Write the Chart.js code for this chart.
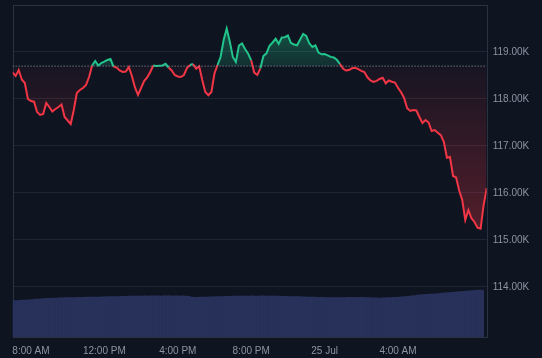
<!DOCTYPE html>
<html><head><meta charset="utf-8">
<script src="https://cdn.jsdelivr.net/npm/chart.js@4/dist/chart.umd.min.js"></script>
<style>html,body{margin:0;padding:0;background:#0f1421;overflow:hidden}#wrap{width:542px;height:358px;position:relative}</style>
</head><body><div id="wrap"><canvas id="c" width="542" height="358"></canvas></div>
<script>
// Start: 24 Jul 07:00, one point every 10 minutes
const stepMinutes = 10;
const endMinutes = 1550;
const baseline = 118700;
const prices = [
 118564,118489,118617,118415,118340,118000,117957,117943,117723,117660,
 117681,117915,117830,117734,117787,117830,117883,117617,117543,117468,
 117766,118128,118191,118234,118298,118468,118713,118809,118713,118766,
 118794,118830,118851,118691,118670,118606,118574,118585,118681,118489,
 118245,118085,118234,118383,118457,118574,118713,118702,118709,118713,
 118749,118670,118606,118511,118479,118468,118511,118660,118723,118745,
 118643,118696,118404,118149,118081,118149,118543,118723,118894,119255,
 119500,119223,118894,118787,119138,119183,119064,118964,118823,118562,
 118511,118653,118915,118972,119134,119202,119281,119174,119309,119315,
 119351,119191,119160,119143,119266,119383,119340,119185,119109,119143,
 118989,118951,118957,118930,118896,118883,118834,118749,118647,118606,
 118615,118655,118666,118634,118600,118572,118462,118394,118362,118387,
 118426,118453,118334,118394,118368,118349,118240,118143,118023,117802,
 117745,117766,117755,117617,117489,117553,117500,117319,117340,117281,
 117230,117085,116751,116766,116362,116330,116053,115851,115425,115638,
 115464,115383,115260,115240,115745,116100
];
const volumes = [
 36.3,36.4,36.6,36.8,37.0,37.2,37.5,
 37.8,37.9,38.2,38.3,38.6,38.7,38.9,
 39.0,39.1,39.2,39.3,39.4,39.4,39.5,
 39.6,39.6,39.7,39.8,39.8,39.9,40.0,
 40.0,40.1,40.2,40.3,40.3,40.4,40.5,
 40.6,40.6,40.7,40.8,40.8,40.9,41.0,
 41.0,41.1,41.0,41.1,41.2,41.1,41.0,
 41.1,41.2,41.1,41.0,41.1,41.0,41.1,
 40.9,40.6,39.8,39.6,39.7,39.8,39.9,
 40.0,40.1,40.2,40.3,40.4,40.5,40.6,
 40.7,40.7,40.8,40.9,40.9,41.0,41.0,
 41.0,41.1,41.0,41.0,41.1,41.0,41.0,
 40.9,40.9,40.8,40.7,40.7,40.6,40.5,
 40.5,40.4,40.3,40.2,40.1,40.0,39.9,
 39.8,39.7,39.7,39.6,39.5,39.4,39.4,
 39.3,39.4,39.5,39.5,39.6,39.6,39.7,
 39.7,39.7,39.6,39.5,39.3,39.2,39.1,
 39.0,39.0,39.1,39.3,39.5,39.6,39.7,
 39.8,40.1,40.4,40.7,41.1,41.5,41.8,
 42.1,42.3,42.6,42.8,43.0,43.2,43.4,
 43.8,44.1,44.4,44.7,44.9,45.1,45.4,
 45.7,46.0,46.2,46.5,46.7,46.9,47.0
];
const priceTicks = [114000,115000,116000,117000,118000,119000];
const timeTicks = [60,300,540,780,1020,1260];
const timeTickLabels = ['8:00 AM','12:00 PM','4:00 PM','8:00 PM','25 Jul','4:00 AM'];

const GREEN = '#22c48b', RED = '#f23645';
const GRID = '#1f2534', BORDER = '#2a3141', TEXT = '#8d94a1';
const FONT = {family: "'Liberation Sans', Arial, sans-serif", size: 10};

const priceData = prices.map((p, i) => ({x: i * stepMinutes, y: p}));
const volData = volumes.map((v, i) => ({x: i * stepMinutes + stepMinutes / 2, y: v}));

const frame = {
  id: 'frame',
  beforeDatasetsDraw(chart) {
    const {ctx, chartArea: a} = chart;
    ctx.save();
    ctx.strokeStyle = BORDER; ctx.lineWidth = 1;
    ctx.strokeRect(Math.round(a.left) + 0.5, Math.round(a.top) + 0.5, Math.round(a.right - a.left), Math.round(a.bottom - a.top));
    ctx.restore();
  }
};

new Chart(document.getElementById('c'), {
  type: 'line',
  data: {
    datasets: [
      {
        data: priceData, yAxisID: 'y', borderWidth: 2, pointRadius: 0, tension: 0,
        borderColor: RED,
        segment: {borderColor: c => ((c.p0.parsed.y + c.p1.parsed.y) / 2 >= baseline ? GREEN : RED)},
        fill: (c) => {
          const chart = c.chart, a = chart.chartArea, ys = chart.scales.y;
          if (!a || !ys) return {target: {value: baseline}, above: 'rgba(34,196,139,0.25)', below: 'rgba(242,54,69,0.12)'};
          const yb = ys.getPixelForValue(baseline);
          const gA = chart.ctx.createLinearGradient(0, ys.getPixelForValue(119600), 0, yb);
          gA.addColorStop(0, 'rgba(34,196,139,0.38)');
          gA.addColorStop(1, 'rgba(34,196,139,0.16)');
          const gB = chart.ctx.createLinearGradient(0, yb, 0, ys.getPixelForValue(115200));
          gB.addColorStop(0, 'rgba(242,54,69,0.04)');
          gB.addColorStop(1, 'rgba(242,54,69,0.30)');
          return {target: {value: baseline}, above: gA, below: gB};
        },
        order: 1
      },
      {
        data: [{x: 0, y: baseline}, {x: endMinutes, y: baseline}], yAxisID: 'y',
        borderColor: '#9a9fa8', borderWidth: 1, borderDash: [1, 2], pointRadius: 0, fill: false, order: 0
      },
      {
        type: 'bar', data: volData, yAxisID: 'yv', backgroundColor: '#28315a',
        borderWidth: 0, barPercentage: 1, categoryPercentage: 1, order: 2
      }
    ]
  },
  options: {
    responsive: false, animation: false, devicePixelRatio: 1,
    layout: {padding: {left: 12.6, top: 5, right: 0, bottom: 0}},
    plugins: {legend: {display: false}, tooltip: {enabled: false}},
    scales: {
      x: {
        type: 'linear', min: 0, max: endMinutes, offset: false,
        afterBuildTicks: s => { s.ticks = timeTicks.map(v => ({value: v})); },
        afterFit: s => { s.height = 21; s.paddingLeft = 0; s.paddingRight = 0; },
        grid: {display: false, drawTicks: false, offset: false}, border: {display: false},
        ticks: {color: TEXT, font: FONT, padding: 8, maxRotation: 0, autoSkip: false,
          callback: v => timeTickLabels[timeTicks.indexOf(v)]}
      },
      y: {
        position: 'right', min: 112936, max: 120000,
        afterBuildTicks: s => { s.ticks = priceTicks.map(v => ({value: v})); },
        afterFit: s => { s.width = 55.3; s.paddingTop = 0; s.paddingBottom = 0; },
        grid: {color: GRID, drawTicks: false}, border: {display: false},
        ticks: {color: TEXT, font: FONT, padding: 6, callback: v => (v / 1000).toFixed(2) + 'K'}
      },
      yv: {display: false, min: 0, max: 332,
        afterFit: s => { s.paddingTop = 0; s.paddingBottom = 0; }}
    }
  },
  plugins: [frame]
});
</script></body></html>
